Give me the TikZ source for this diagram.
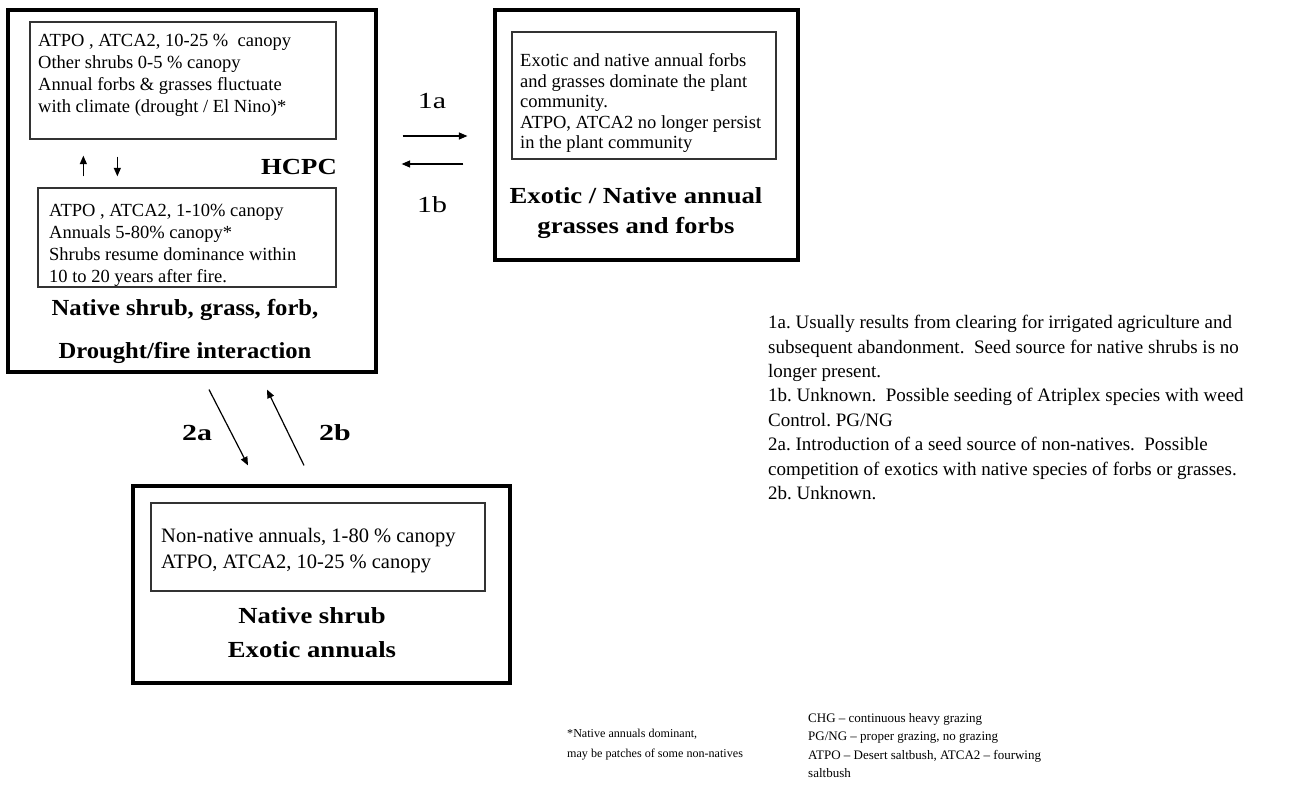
\documentclass[tikz,border=0pt]{standalone}
\usepackage{fontspec}
\setmainfont{Liberation Serif}
\newfontfamily\wbfA[FakeStretch=1.07]{Liberation Serif}
\newfontfamily\wbfB[FakeStretch=1.16]{Liberation Serif}
\newfontfamily\wlab[FakeStretch=1.3]{Liberation Serif}
\usetikzlibrary{arrows.meta}
\tikzset{
  outerbox/.style={draw=black, line width=3.2pt, inner sep=0pt},
  innerbox/.style={draw=black!80, line width=1.3pt, inner sep=0pt},
  body/.style={align=left, anchor=north west, inner sep=0pt, font=\frenchspacing\fontsize{18.5}{22}\selectfont},
  ttl/.style={anchor=base, inner sep=0pt, font=\wbfB\bfseries\fontsize{23}{28}\selectfont},
  ttlA/.style={anchor=base, inner sep=0pt, font=\wbfA\bfseries\fontsize{23}{28}\selectfont},
  lab/.style={anchor=base, inner sep=0pt, font=\wlab\fontsize{23}{28}\selectfont},
  arr/.style={-{Triangle[length=8.5pt,width=7pt]}, line width=1.2pt},
}
\begin{document}
\begin{tikzpicture}[x=1pt,y=-1pt]
\useasboundingbox (0,0) rectangle (1292,792);
% Box A
\node[outerbox, minimum width=368pt, minimum height=362pt] (A) at (192,191) {};
\node[innerbox, minimum width=306pt, minimum height=117pt] (A1) at (183,80.5) {};
\node[body] (tA1) at (38,34) {ATPO , ATCA2, 10-25 \%\ \ canopy\\Other shrubs 0-5 \% canopy\\Annual forbs \& grasses fluctuate\\with climate (drought / El Nino)*};
\node[innerbox, minimum width=298pt, minimum height=99pt] (A2) at (187,237.5) {};
\node[body] (tA2) at (49,203.5) {ATPO , ATCA2, 1-10\% canopy\\Annuals 5-80\% canopy*\\Shrubs resume dominance within\\10 to 20 years after fire.};
\draw[arr] ([xshift=46pt,yshift=11pt]A2.north west) -- ([xshift=54pt,yshift=-16pt]A1.south west);
\draw[arr] ([xshift=88pt,yshift=-17pt]A1.south west) -- ([xshift=80pt,yshift=11pt]A2.north west);
\node[ttl, anchor=base east] (hcpc) at (337,174) {HCPC};
\node[ttlA] (tA3) at (185,315) {Native shrub, grass, forb,};
\node[ttlA] (tA4) at (185,358) {Drought/fire interaction};
% Box B
\node[outerbox, minimum width=303pt, minimum height=250pt] (B) at (646.5,135) {};
\node[innerbox, minimum width=264pt, minimum height=127pt] (B1) at (644,95.5) {};
\node[body, font=\frenchspacing\fontsize{18.5}{20.5}\selectfont] (tB1) at (520,53.5) {Exotic and native annual forbs\\and grasses dominate the plant\\community.\\ATPO, ATCA2 no longer persist\\in the plant community};
\node[ttl] (tB2) at (636,203) {Exotic / Native annual};
\node[ttl] (tB3) at (636,233) {grasses and forbs};
\draw[arr] ([xshift=25pt,yshift=55pt]A.east) -- ([xshift=-26pt,yshift=-1pt]B.west);
\draw[arr] ([xshift=-30pt,yshift=-29pt]B.west) -- ([xshift=24pt,yshift=27pt]A.east);
\node[lab] (l1a) at (432,108) {1a};
\node[lab] (l1b) at (432,212) {1b};
% Box C
\node[outerbox, minimum width=377pt, minimum height=197pt] (C) at (321.5,584.5) {};
\node[innerbox, minimum width=334pt, minimum height=88pt] (C1) at (318,547) {};
\node[body, font=\frenchspacing\fontsize{20.5}{26}\selectfont] (tC1) at (161,528) {Non-native annuals, 1-80 \% canopy\\ATPO, ATCA2, 10-25 \% canopy};
\node[ttl] (tC2) at (312,623) {Native shrub};
\node[ttl] (tC3) at (312,657) {Exotic annuals};
\draw[arr] ([xshift=17pt,yshift=-16pt]A.south) -- ([xshift=-73.5pt,yshift=19pt]C.north);
\draw[arr] ([xshift=-17.5pt,yshift=19pt]C.north) -- ([xshift=75pt,yshift=-16pt]A.south);
\node[lab, font=\wlab\bfseries\fontsize{23}{28}\selectfont] (l2a) at (197,440) {2a};
\node[lab, font=\wlab\bfseries\fontsize{23}{28}\selectfont] (l2b) at (335,440) {2b};
% Notes
\node[body, font=\frenchspacing\fontsize{19}{24.4}\selectfont] (notes) at (768,315.2) {1a. Usually results from clearing for irrigated agriculture and\\subsequent abandonment.\ \ Seed source for native shrubs is no\\longer present.\\1b. Unknown.\ \ Possible seeding of Atriplex species with weed\\Control. PG/NG\\2a. Introduction of a seed source of non-natives.\ \ Possible\\competition of exotics with native species of forbs or grasses.\\2b. Unknown.};
\node[body, font=\frenchspacing\fontsize{12.1}{20}\selectfont] (foot1) at (567,728.8) {*Native annuals dominant,\\may be patches of some non-natives};
\node[body, font=\frenchspacing\fontsize{13}{18.4}\selectfont] (foot2) at (808,713.2) {CHG -- continuous heavy grazing\\PG/NG -- proper grazing, no grazing\\ATPO -- Desert saltbush, ATCA2 -- fourwing\\saltbush};
\end{tikzpicture}
\end{document}
